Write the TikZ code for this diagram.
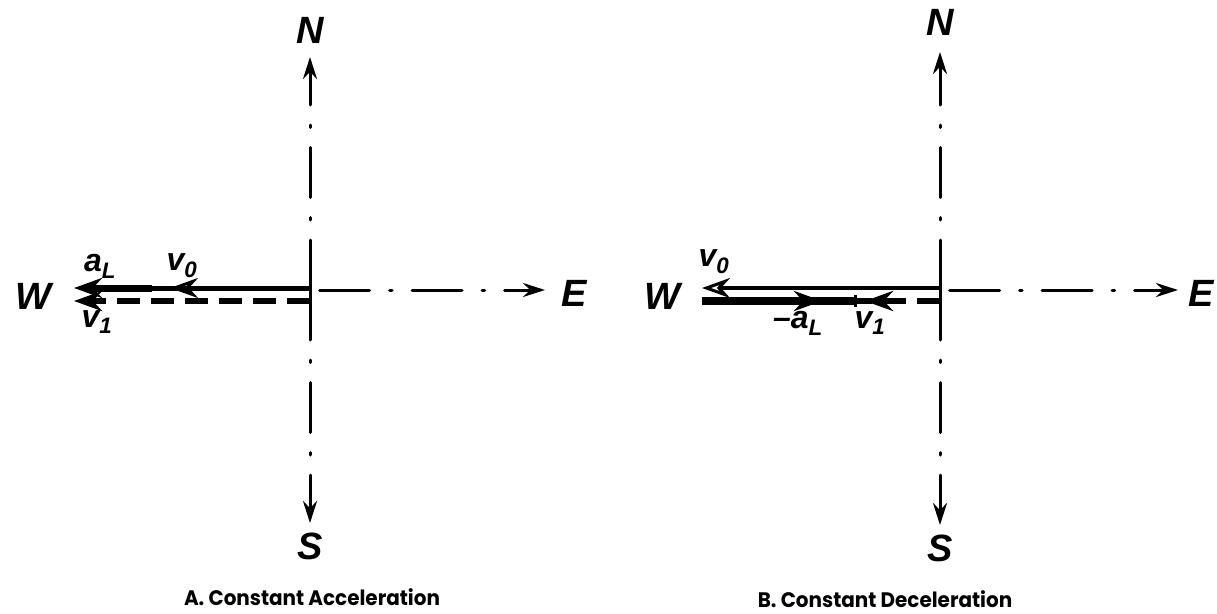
\documentclass[tikz,border=0pt]{standalone}
\usepackage{fontspec}
\setmainfont{Liberation Sans}
\newfontfamily\capfont{Poppins}[FakeStretch=0.95]
\usetikzlibrary{arrows.meta,decorations.markings}
\tikzset{
  axisline/.style={line width=3pt, line cap=round, dash pattern=on 50pt off 20pt on 2.5pt off 20pt,
    -{Stealth[length=22pt,width=14pt]}},
  haxis/.style={axisline, dash phase=83pt},
  compass/.style={font=\fontsize{38}{38}\selectfont\bfseries\itshape, inner sep=0pt},
  lbl/.style={font=\fontsize{32}{32}\selectfont\bfseries\itshape, inner sep=0pt},
  captxt/.style={font=\capfont\bfseries\fontsize{21}{21}\selectfont, inner sep=0pt},
  vecdash/.style={line width=5.5pt, dash pattern=on 23pt off 11pt},
  midarrow/.style={postaction={decorate}, decoration={markings,
    mark=at position #1 with {\arrow{Stealth[length=28pt,width=20pt]}}}},
  midopen/.style={postaction={decorate}, decoration={markings,
    mark=at position #1 with {\arrow{Stealth[open,length=28pt,width=20pt,line width=3pt]}}}},
}
\begin{document}
\begin{tikzpicture}[x=1pt,y=-1pt]
\useasboundingbox (0,0) rectangle (1217,613);
% ---------------- A ----------------
\coordinate (OA) at (310,290);
\coordinate (NtA) at (310,57);
\coordinate (StA) at (310,523);
\coordinate (EtA) at (545,290);
\node[compass] (NA) at (310,30) {N};
\node[compass] (SA) at (310,546) {S};
\node[compass] (EA) at (574,293) {E};
\node[compass] (WA) at (33,296) {W};
\draw[axisline] (OA) -- (NtA);
\draw[axisline] (OA) -- (StA);
\draw[haxis] (OA) -- (EtA);
\coordinate (A0) at (310,288);
\coordinate (A1) at (152,288);
\coordinate (A2) at (74,288);
\coordinate (A0d) at (310,301);
\coordinate (A2d) at (74,301);
\draw[line width=5pt, midopen=140pt] (A0) -- (A1);
\draw[line width=7pt, -{Stealth[length=28pt,width=20pt]}] (A1) -- (A2);
\draw[vecdash, -{Stealth[length=28pt,width=20pt]}] (A0d) -- (A2d);
\node[lbl] (aLA) at (100,266) {a\textsubscript{L}};
\node[lbl] (v0A) at (182,266) {v\textsubscript{0}};
\node[lbl] (v1A) at (97,322) {v\textsubscript{1}};
\node[captxt] (capA) at (312,597) {A. Constant Acceleration};
% ---------------- B ----------------
\coordinate (OB) at (940,290);
\coordinate (NtB) at (940,52);
\coordinate (StB) at (940,525);
\coordinate (EtB) at (1178,290);
\node[compass] (NB) at (940,22) {N};
\node[compass] (SB) at (940,548) {S};
\node[compass] (EB) at (1201,293) {E};
\node[compass] (WB) at (662,296) {W};
\draw[axisline] (OB) -- (NtB);
\draw[axisline] (OB) -- (StB);
\draw[haxis] (OB) -- (EtB);
\coordinate (B0) at (940,288);
\coordinate (B1) at (702,288);
\coordinate (B0d) at (940,301);
\coordinate (B2) at (702,301);
\coordinate (B3) at (855,301);
\draw[line width=3.5pt, -{Stealth[open,length=28pt,width=20pt,line width=3pt]}] (B0) -- (B1);
\draw[line width=8pt, midarrow=120pt] (B2) -- (B3);
\draw[line width=3pt] (B3) -- ++(0,-6) -- ++(0,12);
\draw[vecdash, midarrow=75pt] (B0d) -- (B3);
\node[lbl] (v0B) at (714,262) {v\textsubscript{0}};
\node[lbl] (aLB) at (798,323) {--a\textsubscript{L}};
\node[lbl] (v1B) at (870,323) {v\textsubscript{1}};
\node[captxt] (capB) at (885,599) {B. Constant Deceleration};
\end{tikzpicture}
\end{document}
